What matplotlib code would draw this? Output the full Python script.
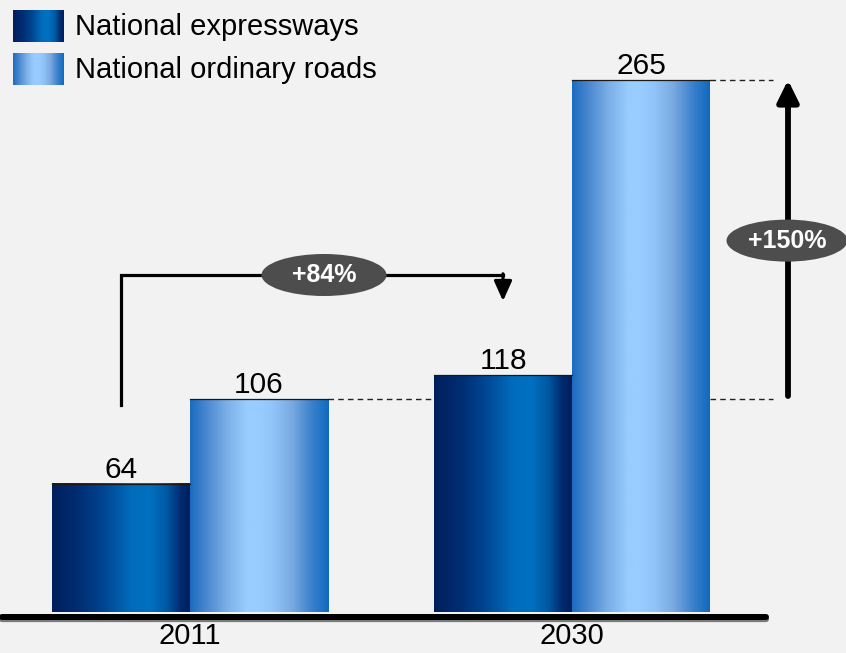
import numpy as np
import matplotlib
matplotlib.use('Agg')
import matplotlib.pyplot as plt
from matplotlib.colors import LinearSegmentedColormap
from matplotlib.patches import Ellipse

# ---- data ----
years = ['2011', '2030']
series = ['National expressways', 'National ordinary roads']
expressways = [64, 118]
ordinary = [106, 265]

# ---- layout ----
W, H = 846, 653
BG = '#F2F2F2'
fig = plt.figure(figsize=(W / 100, H / 100), dpi=100)
fig.patch.set_facecolor(BG)
ax = fig.add_axes([0, 0, 1, 1])
ax.set_facecolor(BG)
ax.axis('off')

PXX = 382.0      # pixels per category unit
X0 = 190.0       # pixel of first category centre
Y0 = 612.0       # pixel of value 0
PXY = 2.0075     # pixels per value unit
xlim = (-X0 / PXX, (W - X0) / PXX)
ylim = ((Y0 - H) / PXY, Y0 / PXY)

FONT = ['Liberation Sans', 'DejaVu Sans']
NARROW = ['Liberation Sans Narrow', 'Liberation Sans', 'DejaVu Sans']

dark_cmap = LinearSegmentedColormap.from_list('dark', [
    (0.0, '#001F5C'), (0.2, '#002E74'), (0.35, '#00428E'), (0.57, '#006CBC'),
    (0.71, '#0070C0'), (0.83, '#0058A2'), (0.93, '#002A70'), (1.0, '#001E5A')])
light_cmap = LinearSegmentedColormap.from_list('light', [
    (0.0, '#1A6CC0'), (0.12, '#4A88D0'), (0.26, '#7AAEE6'), (0.41, '#99CCFF'),
    (0.5, '#99CCFF'), (0.6, '#90C4F8'), (0.74, '#78A8E0'), (0.88, '#3A80CC'),
    (1.0, '#0F6ABF')])

grad = np.linspace(0, 1, 256).reshape(1, -1)

x = np.arange(len(years))
bw = 138 / PXX
b1 = ax.bar(x - bw / 2, expressways, bw, color='none', edgecolor='none')
b2 = ax.bar(x + bw / 2, ordinary, bw, color='none', edgecolor='none')

for bars, cmap, vals in ((b1, dark_cmap, expressways), (b2, light_cmap, ordinary)):
    for p, v in zip(bars.patches, vals):
        bx, by, w, h = p.get_x(), p.get_y(), p.get_width(), p.get_height()
        ax.imshow(grad, cmap=cmap, extent=[bx, bx + w, by, by + h],
                  aspect='auto', interpolation='bicubic', zorder=2)
        ax.plot([bx, bx + w], [by + h, by + h], color='#1a1a1a', lw=0.9, zorder=3)
        ax.annotate(str(v), (bx + w / 2, by + h), xytext=(0, 0),
                    textcoords='offset points', ha='center', va='bottom',
                    fontsize=21.5, family=FONT, color='black', zorder=4)

# baseline
bl_left, bl_right = xlim[0] + 2 / PXX, (766 - X0) / PXX
ax.plot([bl_left, bl_right], [-3.6, -3.6], color='#7a7a7a', lw=4.5,
        solid_capstyle='round', zorder=4)
ax.plot([bl_left, bl_right], [-2.3, -2.3], color='black', lw=4.3,
        solid_capstyle='round', zorder=5)

# year labels
for xi, yr in zip(x, years):
    ax.text(xi, (Y0 - 622) / PXY, yr, ha='center', va='top', fontsize=21,
            family=NARROW, color='black')

# dashed guide lines
dash = dict(color='#222222', lw=1.0, ls=(0, (4, 3)), zorder=1)
ax.plot([x[0] + bw, x[1] - bw], [ordinary[0], ordinary[0]], **dash)
ax.plot([x[1] + bw, (773 - X0) / PXX], [ordinary[0], ordinary[0]], **dash)
ax.plot([x[1] + bw, (773 - X0) / PXX], [ordinary[1], ordinary[1]], **dash)

pill_color = '#4D4D4D'

def pill(cx, cy, wpx, hpx, label):
    ax.add_patch(Ellipse((cx, cy), wpx / PXX, hpx / PXY, facecolor=pill_color,
                         edgecolor='none', zorder=6))
    ax.text(cx, cy, label, ha='center', va='center', fontsize=18,
            fontweight='bold', family=FONT, color='white', zorder=7)

# +84% bracket (expressways 2011 -> 2030)
g1 = expressways[1] / expressways[0] - 1
xl = x[0] - bw / 2
xr = x[1] - bw / 2
y_low, y_top, y_tip = (Y0 - 405) / PXY, (Y0 - 275) / PXY, (Y0 - 301) / PXY
ax.plot([xl, xl, xr], [y_low, y_top, y_top], color='black', lw=2.3,
        solid_joinstyle='miter', zorder=5)
ax.annotate('', xy=(xr, y_tip), xytext=(xr, y_top + 0.6),
            arrowprops=dict(arrowstyle='-|>,head_length=0.6,head_width=0.27',
                            mutation_scale=20, lw=2.3, color='black',
                            shrinkA=0, shrinkB=0), zorder=5)
pill((324 - X0) / PXX, y_top, 125, 42, f'+{g1 * 100:.0f}%')

# +150% arrow (ordinary roads 2011 -> 2030)
g2 = ordinary[1] / ordinary[0] - 1
xa = (788 - X0) / PXX
ax.annotate('', xy=(xa, ordinary[1]), xytext=(xa, (Y0 - 396) / PXY),
            arrowprops=dict(arrowstyle='-|>,head_length=0.65,head_width=0.32',
                            mutation_scale=20, lw=4.2, color='black',
                            shrinkA=0, shrinkB=0), zorder=5)
pill((787 - X0) / PXX, (ordinary[0] + ordinary[1]) / 2 - 0.5, 121, 42,
     f'+{g2 * 100:.0f}%')

ax.set_xlim(*xlim)
ax.set_ylim(*ylim)

# legend
legend_cmaps = [dark_cmap, light_cmap]
legend_tops = [10, 53]
for name, cmap, top in zip(series, legend_cmaps, legend_tops):
    lax = fig.add_axes([13 / W, 1 - (top + 32) / H, 50 / W, 32 / H])
    lax.imshow(grad, cmap=cmap, aspect='auto', interpolation='bicubic')
    lax.axis('off')
    fig.text(75 / W, 1 - (top + 17) / H, name, ha='left', va='center',
             fontsize=21, family=FONT, color='black')

fig.savefig('out.png', dpi=100, facecolor=BG)
